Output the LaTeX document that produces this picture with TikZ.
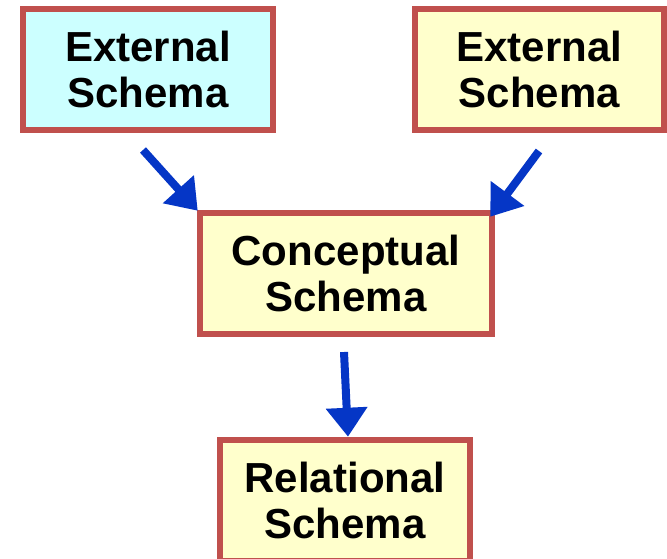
\documentclass[tikz,border=0pt]{standalone}
\usepackage{fontspec}
\setmainfont{Liberation Sans}
\usetikzlibrary{arrows.meta,calc}
\definecolor{brd}{HTML}{C0504D}
\definecolor{cyanfill}{HTML}{CCFFFF}
\definecolor{yelfill}{HTML}{FFFFCC}
\definecolor{arrblue}{HTML}{0536C6}
\tikzset{
  schemabox/.style={draw=brd, line width=6.5pt, rectangle, align=center,
    font=\fontsize{42}{46}\selectfont\bfseries, inner sep=0pt},
  flowarrow/.style={draw=arrblue, line width=8pt,
    -{Triangle[length=29pt,width=40pt]}, shorten >=0pt}
}
\begin{document}
\begin{tikzpicture}[x=1pt,y=-1pt]
\useasboundingbox (0,0) rectangle (667,559);
\node[schemabox, fill=cyanfill, minimum width=250pt, minimum height=121pt] (e1) at (148,69.5) {External\\Schema};
\node[schemabox, fill=yelfill, minimum width=249pt, minimum height=121pt] (e2) at (539.5,69.5) {External\\Schema};
\node[schemabox, fill=yelfill, minimum width=292pt, minimum height=121pt] (c) at (346,273.5) {Conceptual\\Schema};
\node[schemabox, fill=yelfill, minimum width=250pt, minimum height=121pt] (r) at (345,500.5) {Relational\\Schema};
\coordinate (s1) at (143,150);
\coordinate (s2) at (539,151);
\coordinate (s3) at (344,352);
\draw[flowarrow] (s1) -- ($(c.north west)+(1,1)$);
\draw[flowarrow] (s2) -- ($(c.north east)+(-5,7)$);
\draw[flowarrow] (s3) -- ($(r.north)+(3,0)$);
\end{tikzpicture}
\end{document}
